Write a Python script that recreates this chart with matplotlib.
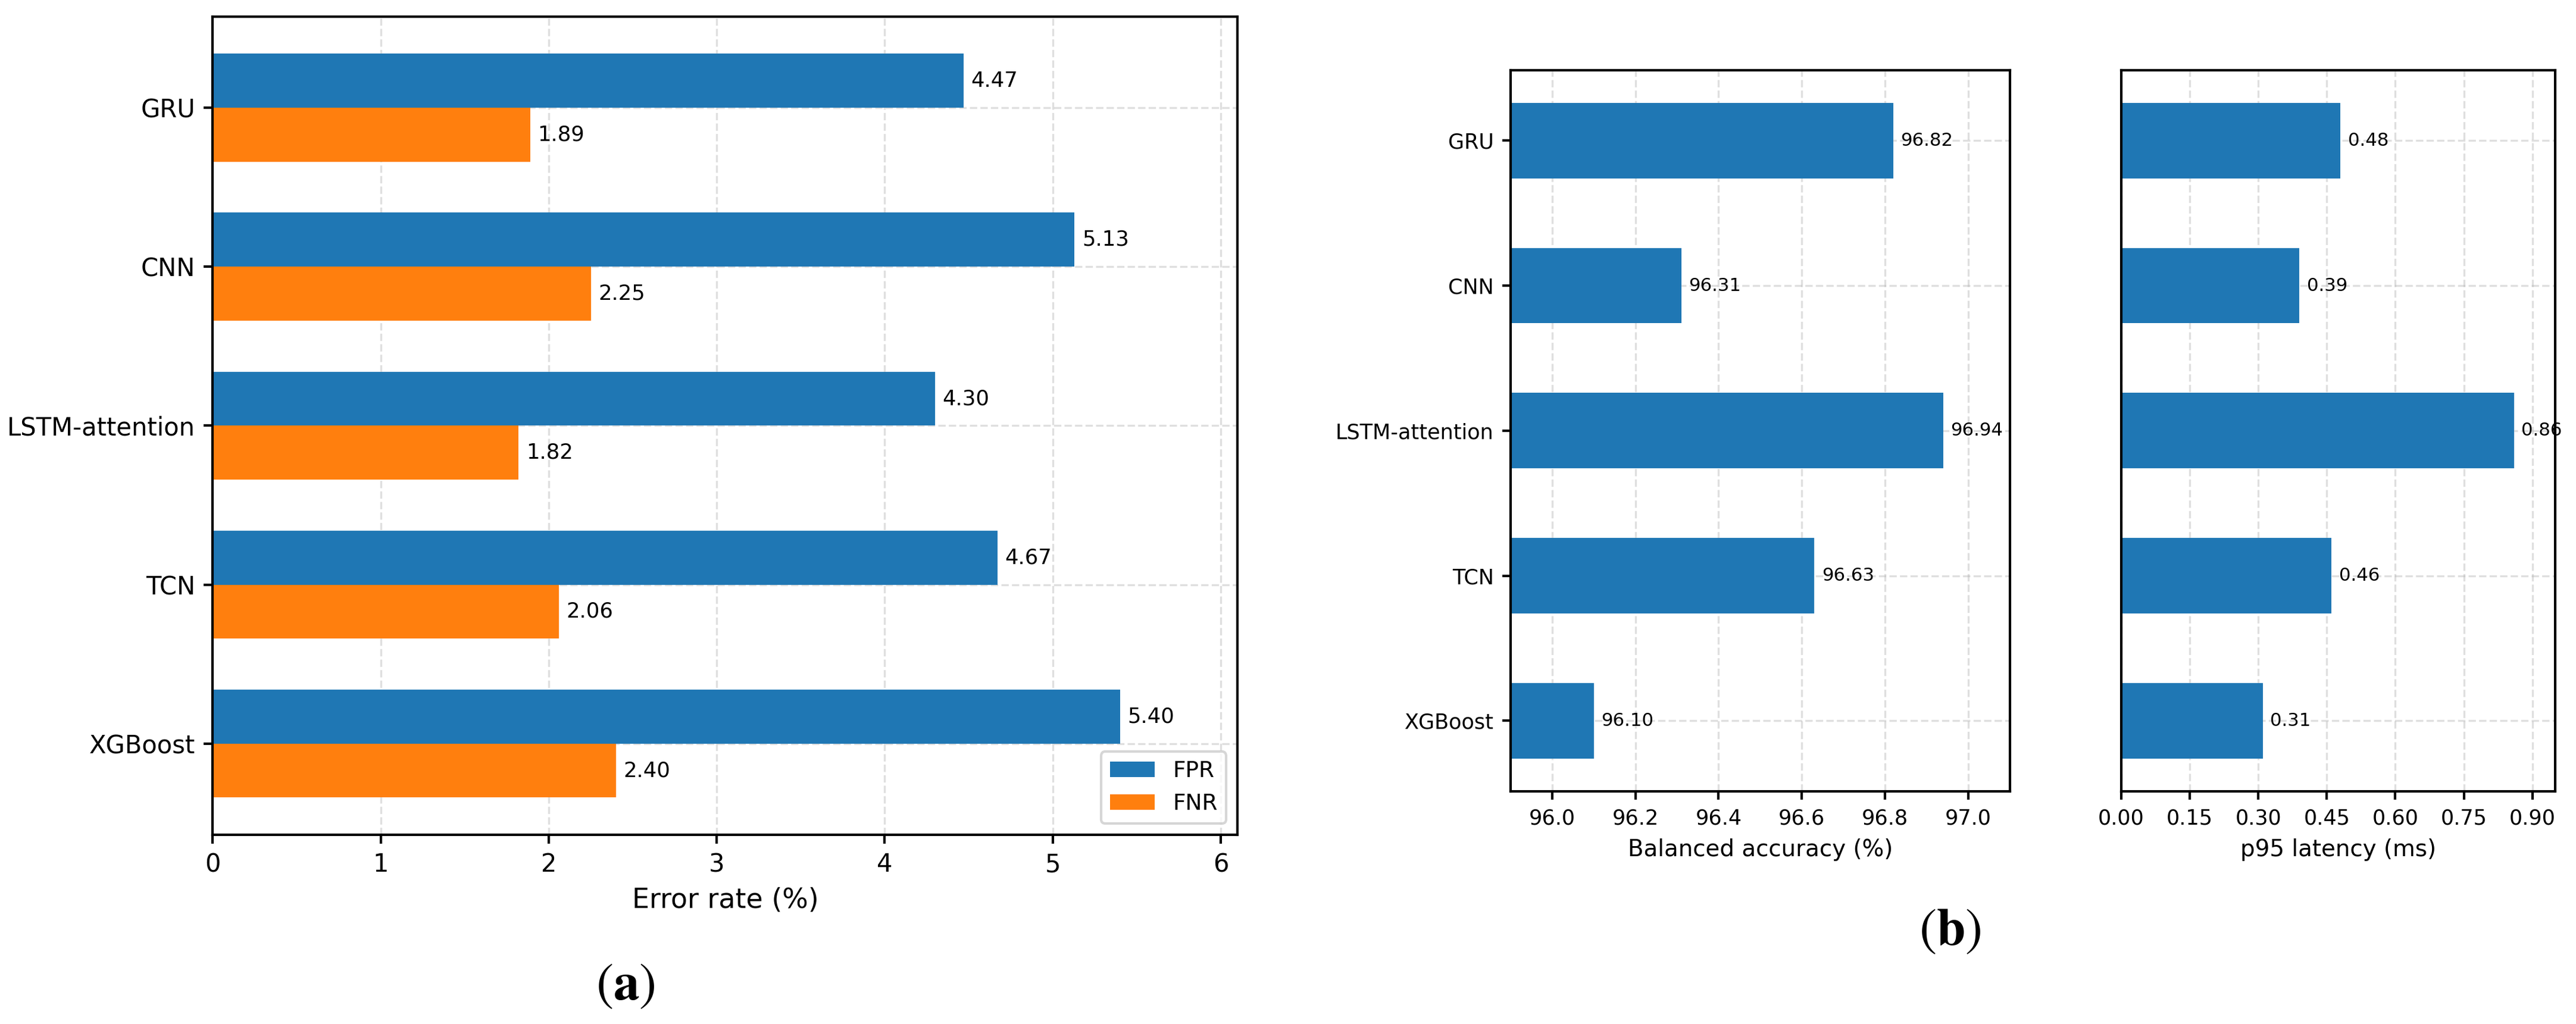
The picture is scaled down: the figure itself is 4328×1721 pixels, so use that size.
import matplotlib
matplotlib.use("Agg")
import matplotlib.pyplot as plt
import numpy as np

# data
models = ["GRU", "CNN", "LSTM-attention", "TCN", "XGBoost"]
fpr = [4.47, 5.13, 4.30, 4.67, 5.40]
fnr = [1.89, 2.25, 1.82, 2.06, 2.40]
bal_acc = [96.82, 96.31, 96.94, 96.63, 96.10]
p95_lat = [0.48, 0.39, 0.86, 0.46, 0.31]

plt.rcParams["axes.linewidth"] = 1.0
plt.rcParams["font.family"] = "DejaVu Sans"

fig = plt.figure(figsize=(4328 / 300, 1721 / 300), dpi=300)

y = np.arange(len(models))
grid_kw = dict(linestyle="--", linewidth=0.8, alpha=0.4)

# ---- (a) error rates
ax = fig.add_axes([0.0826, 0.1848, 0.3978, 0.7990])
h = 0.34
b1 = ax.barh(y - h / 2, fpr, h, color="#1f77b4", label="FPR")
b2 = ax.barh(y + h / 2, fnr, h, color="#ff7f0e", label="FNR")
ax.bar_label(b1, fmt="%.2f", padding=3, fontsize=8.5)
ax.bar_label(b2, fmt="%.2f", padding=3, fontsize=8.5)
ax.set_yticks(y)
ax.set_yticklabels(models)
ax.invert_yaxis()
ax.set_xlim(0, 6.1)
ax.tick_params(labelsize=10, length=3.5, width=1.0)
ax.set_xlabel("Error rate (%)", fontsize=11)
ax.grid(True, **grid_kw)
ax.set_axisbelow(True)
ax.legend(loc="lower right", fontsize=9)

# ---- (b) balanced accuracy and latency
hb = 0.52
axb = fig.add_axes([0.5864, 0.2272, 0.1938, 0.7044])
bb = axb.barh(y, bal_acc, hb, color="#1f77b4")
axb.bar_label(bb, fmt="%.2f", padding=3, fontsize=7.4)
axb.set_yticks(y)
axb.set_yticklabels(models)
axb.invert_yaxis()
axb.set_xlim(95.9, 97.1)
axb.set_xticks(np.arange(96.0, 97.01, 0.2))
axb.xaxis.set_major_formatter(matplotlib.ticker.FormatStrFormatter("%.1f"))
axb.tick_params(labelsize=8.4, length=3.25, width=1.0)
axb.set_xlabel("Balanced accuracy (%)", fontsize=9.3)
axb.grid(True, **grid_kw)
axb.set_axisbelow(True)

axc = fig.add_axes([0.8235, 0.2272, 0.1684, 0.7044], sharey=axb)
bc = axc.barh(y, p95_lat, hb, color="#1f77b4")
axc.bar_label(bc, fmt="%.2f", padding=3, fontsize=7.4, clip_on=False)
axc.set_xlim(0, 0.95)
axc.set_xticks(np.arange(0, 0.91, 0.15))
axc.xaxis.set_major_formatter(matplotlib.ticker.FormatStrFormatter("%.2f"))
axc.tick_params(labelsize=8.4, length=3.25, width=1.0)
axc.tick_params(axis="y", left=False, labelleft=False)
axc.set_xlabel("p95 latency (ms)", fontsize=9.3)
axc.grid(True, **grid_kw)
axc.set_axisbelow(True)

# panel captions
fig.text(0.2428, 0.0378, r"$(\mathbf{a})$", ha="center", va="center",
         fontsize=21, math_fontfamily="stix")
fig.text(0.7569, 0.0912, r"$(\mathbf{b})$", ha="center", va="center",
         fontsize=21, math_fontfamily="stix")

fig.savefig("out.png", dpi=300)
